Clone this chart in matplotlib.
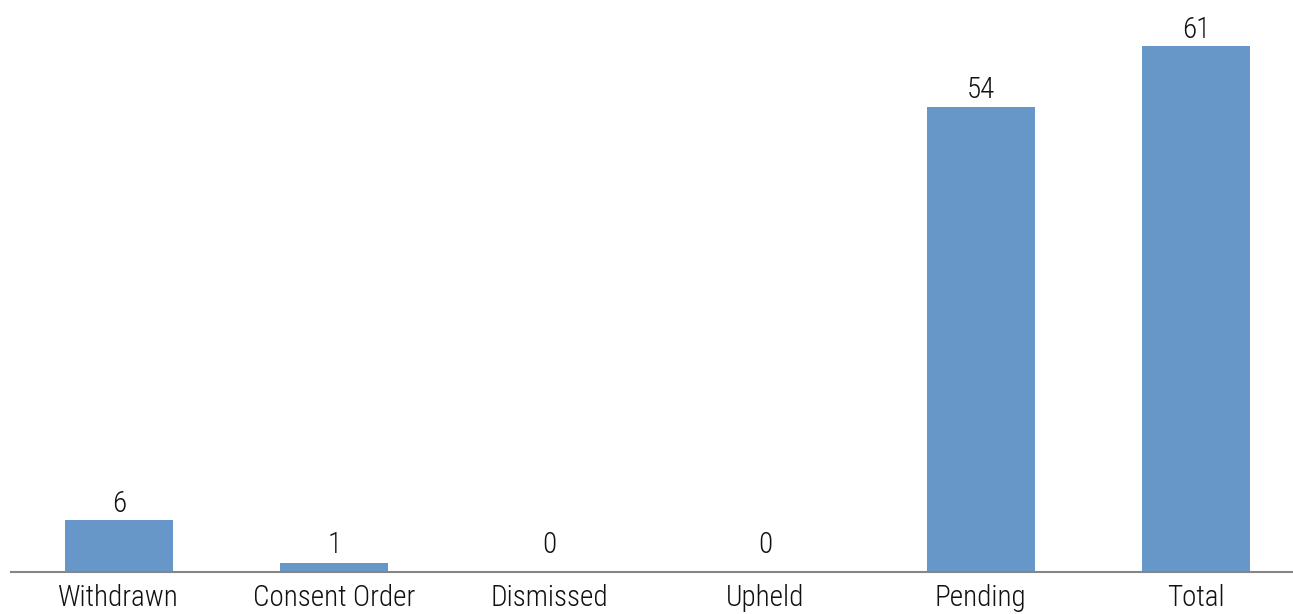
import matplotlib
matplotlib.use("Agg")
import matplotlib.pyplot as plt

categories = ["Withdrawn", "Consent Order", "Dismissed", "Upheld", "Pending", "Total"]
values = [6, 1, 0, 0, 54, 61]

plt.rcParams['font.family'] = ["Roboto Condensed", "DejaVu Sans"]
plt.rcParams['font.weight'] = 300

W, H = 1293, 614
fig = plt.figure(figsize=(W/100, H/100), dpi=100)
left = 11
catw = 215.5
base_px = 572          # axis line, from top
scale = 8.62           # px per unit
ax = fig.add_axes([left/W, (H-base_px)/H, 6*catw/W, base_px/H])
x = list(range(len(categories)))
ax.bar(x, values, width=0.5, color="#6797C8", zorder=2)
ax.set_xlim(-0.5, 5.5)
ax.set_ylim(0, base_px/scale)
for xi, v in zip(x, values):
    off_px = max(8.5, 19 - v*scale)
    ax.annotate(str(v), (xi, v), xytext=(0, off_px*0.72), textcoords="offset points",
                ha="center", va="baseline", fontsize=21, color="#111111", fontweight=300)
ax.set_xticks(x)
ax.set_xticklabels(categories, fontsize=21, fontweight=300, color="#111111")
ax.tick_params(axis='x', length=0, pad=9)
ax.set_yticks([])
for s in ["top", "right", "left"]:
    ax.spines[s].set_visible(False)
ax.spines["bottom"].set_color("#868686")
ax.spines["bottom"].set_linewidth(1.5)
fig.savefig("out.png", dpi=100)
